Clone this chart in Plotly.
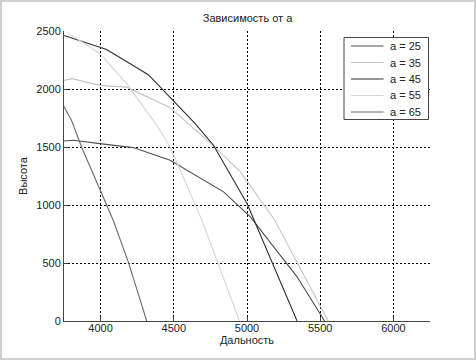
import plotly.graph_objects as go

# ---- data ----
labels = ["a = 25", "a = 35", "a = 45", "a = 55", "a = 65"]
colors = ["#4e4e4e", "#c4c4c4", "#2e2e2e", "#d6d6d6", "#6a6a6a"]

x25 = [3750, 3812, 3995, 4223, 4475, 4589, 4840, 5023, 5342, 5530]
y25 = [1552, 1558, 1529, 1495, 1385, 1300, 1113, 898, 381, 0]

x35 = [3750, 3805, 3995, 4178, 4475, 4771, 4955, 5190, 5555]
y35 = [2074, 2089, 2031, 2016, 1839, 1510, 1285, 869, 0]

x45 = [3750, 4041, 4326, 4475, 4646, 4771, 5000, 5342]
y45 = [2461, 2341, 2123, 1930, 1701, 1515, 1013, 0]

x55 = [3770, 3995, 4178, 4384, 4475, 4543, 4692, 4949]
y55 = [2490, 2304, 2046, 1687, 1500, 1300, 869, 0]

x65 = [3745, 3801, 3870, 4086, 4189, 4315]
y65 = [1860, 1730, 1500, 869, 510, 0]

xs = [x25, x35, x45, x55, x65]
ys = [y25, y35, y45, y55, y65]

x_ticks = [4000, 4500, 5000, 5500, 6000]
y_ticks = [0, 500, 1000, 1500, 2000, 2500]

# plot-area geometry (pixels) used to place the legend box in paper units
ML, MR, MT, MB = 64, 46, 31, 39
W, H = 476, 360
PW, PH = W - ML - MR, H - MT - MB


def px(xp):
    return (xp - ML) / PW


def py(yp):
    return (H - MB - yp) / PH


fig = go.Figure()
for lab, col, xv, yv in zip(labels, colors, xs, ys):
    fig.add_trace(go.Scatter(x=xv, y=yv, mode="lines", name=lab,
                             showlegend=False,
                             line=dict(color=col, width=1.1)))

font = "Liberation Sans, Arial, sans-serif"

shapes = [
    dict(type="rect", xref="paper", yref="paper",
         x0=px(1), x1=px(475), y0=py(359), y1=py(1),
         line=dict(color="#cfcfcf", width=2), layer="below"),
    # legend box
    dict(type="rect", xref="paper", yref="paper",
         x0=px(344), x1=px(428.5), y0=py(119.5), y1=py(37.5),
         line=dict(color="#444444", width=1), fillcolor="white", layer="above"),
]
annotations = []
row0, rowstep = 46.0, 16.5
for i, (lab, col) in enumerate(zip(labels, colors)):
    yy = row0 + i * rowstep
    shapes.append(dict(type="line", xref="paper", yref="paper",
                       x0=px(351), x1=px(383.5), y0=py(yy), y1=py(yy),
                       line=dict(color=col, width=1.1), layer="above"))
    annotations.append(dict(xref="paper", yref="paper", x=px(388), y=py(yy),
                            xanchor="left", yanchor="middle", text=lab,
                            showarrow=False,
                            font=dict(size=11, color="#222222")))

fig.update_layout(
    width=W, height=H,
    margin=dict(l=ML, r=MR, t=MT, b=MB, autoexpand=False),
    paper_bgcolor="white", plot_bgcolor="white",
    font=dict(family=font, size=11, color="#222222"),
    title=dict(text="Зависимость от а", x=0.52, xanchor="center",
               y=1 - 18 / 360, yanchor="middle", yref="container",
               font=dict(size=11, color="#222222")),
    showlegend=False,
    shapes=shapes,
    annotations=annotations,
)

fig.update_xaxes(
    range=[3750, 6250], tickvals=x_ticks, ticktext=[str(v) for v in x_ticks],
    showgrid=True, gridcolor="#000000", griddash="2px,2px", gridwidth=1,
    showline=True, linecolor="#444444", linewidth=1, mirror=False,
    ticks="inside", ticklen=4, tickcolor="#444444", zeroline=False,
    automargin=False, ticklabelstandoff=-3,
    title=dict(text="Дальность", standoff=1, font=dict(size=11)),
    tickfont=dict(size=11),
)
fig.update_yaxes(
    range=[0, 2500], tickvals=y_ticks, ticktext=[str(v) for v in y_ticks],
    showgrid=True, gridcolor="#000000", griddash="2px,2px", gridwidth=1,
    showline=True, linecolor="#444444", linewidth=1, mirror=False,
    ticks="inside", ticklen=4, tickcolor="#444444", zeroline=False,
    automargin=False,
    title=dict(text="Высота", standoff=6, font=dict(size=11)),
    tickfont=dict(size=11),
)

fig.write_html("out.html", config={"displayModeBar": False},
               post_script="document.body.style.margin='0';document.body.style.padding='0';")
